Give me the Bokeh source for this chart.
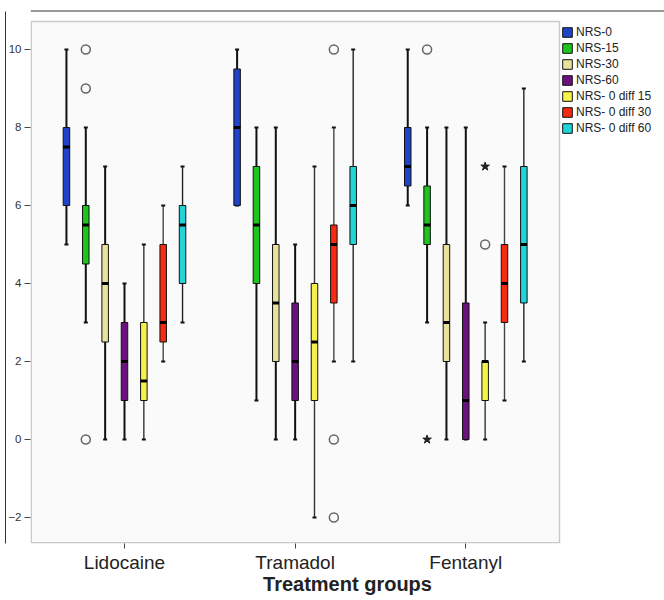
from bokeh.plotting import figure
from bokeh.models import Range1d, FixedTicker, Legend, LegendItem, BoxAnnotation, Span, LinearAxis
from bokeh.embed import file_html
from bokeh.resources import INLINE

groups = ["Lidocaine", "Tramadol", "Fentanyl"]
series = ["NRS-0", "NRS-15", "NRS-30", "NRS-60",
          "NRS- 0 diff 15", "NRS- 0 diff 30", "NRS- 0 diff 60"]
colors = ["#2143c8", "#1ec51e", "#e8e29e", "#6b1280", "#f6f24c", "#f72a12", "#22d4d8"]

# five-number summaries, [series][group] (Lidocaine, Tramadol, Fentanyl)
whisker_low = [[5, 6, 6], [3, 1, 3], [0, 0, 0], [0, 0, 0], [0, -2, 0], [2, 2, 1], [3, 2, 2]]
q1 = [[6, 6, 6.5], [4.5, 4, 5], [2.5, 2, 2], [1, 1, 0], [1, 1, 1], [2.5, 3.5, 3], [4, 5, 3.5]]
median = [[7.5, 8, 7], [5.5, 5.5, 5.5], [4, 3.5, 3], [2, 2, 1], [1.5, 2.5, 2], [3, 5, 4], [5.5, 6, 5]]
q3 = [[8, 9.5, 8], [6, 7, 6.5], [5, 5, 5], [3, 3.5, 3.5], [3, 4, 2], [5, 5.5, 5], [6, 7, 7]]
whisker_high = [[10, 10, 10], [8, 8, 8], [7, 8, 8], [4, 5, 8], [5, 7, 3], [6, 8, 7], [7, 10, 9]]

# outliers (circles) and extremes (stars): group index, series index, value
out_group = [0, 0, 0, 1, 1, 1, 2, 2]
out_series = [1, 1, 1, 5, 5, 5, 1, 4]
out_value = [10, 9, 0, 10, 0, -2, 10, 5]
ext_group = [2, 2]
ext_series = [1, 4]
ext_value = [0, 7]

y_ticks = [-2, 0, 2, 4, 6, 8, 10]

FONT = "Liberation Sans"
GROUP_STEP = 170.65           # px per group
OFFSET = 19.35 / GROUP_STEP   # spacing between series
BOX_W = 6.5 / GROUP_STEP
CAP_W = 4.0 / GROUP_STEP
whisker_widths = [2, 2, 2, 2, 1.4, 1.4, 1.4]
whisker_colors = ["#111111", "#111111", "#111111", "#111111", "#333333", "#444444", "#222222"]

# panel (plot area) extents in data units
X0, X1 = 0.4492, 4.1644
Y0, Y1 = -2.6667, 11.2564
PANEL_RIGHT = 3.5491
PANEL_TOP = 10.718
OUTER_TOP = 10.987

W, H = 664, 600
p = figure(width=W, height=H, output_backend="svg", toolbar_location=None,
           x_range=Range1d(X0, X1), y_range=Range1d(Y0, Y1),
           min_border_left=30, min_border_right=0, min_border_top=0, min_border_bottom=57)
p.background_fill_color = "white"
p.border_fill_color = "white"
p.outline_line_color = None
p.xgrid.visible = False
p.ygrid.visible = False

# plot area panel
p.add_layout(BoxAnnotation(left=X0 + 0.0044, right=PANEL_RIGHT, top=PANEL_TOP, bottom=Y0 + 0.02,
                           fill_color="#fafafa", fill_alpha=1,
                           line_color="#555555", line_width=1.5, level="underlay"))
# outer frame top edge
p.add_layout(Span(location=OUTER_TOP, dimension="width", line_color="#333333", line_width=1))

items = []
for s in range(len(series)):
    xs = [g + 1 + (s - 3) * OFFSET for g in range(len(groups))]
    lw = whisker_widths[s]
    wc = whisker_colors[s]
    p.segment(x0=xs, x1=xs, y0=q3[s], y1=whisker_high[s], line_color=wc, line_width=lw)
    p.segment(x0=xs, x1=xs, y0=whisker_low[s], y1=q1[s], line_color=wc, line_width=lw)
    p.segment(x0=[x - CAP_W / 2 for x in xs], x1=[x + CAP_W / 2 for x in xs],
              y0=whisker_high[s], y1=whisker_high[s], line_color="#111111", line_width=2)
    p.segment(x0=[x - CAP_W / 2 for x in xs], x1=[x + CAP_W / 2 for x in xs],
              y0=whisker_low[s], y1=whisker_low[s], line_color="#111111", line_width=2)
    r = p.quad(left=[x - BOX_W / 2 for x in xs], right=[x + BOX_W / 2 for x in xs],
               bottom=q1[s], top=q3[s], fill_color=colors[s], line_color="#111111", line_width=1)
    items.append(LegendItem(label=series[s], renderers=[r]))
    p.segment(x0=[x - BOX_W / 2 for x in xs], x1=[x + BOX_W / 2 for x in xs],
              y0=median[s], y1=median[s], line_color="black", line_width=3, line_cap="butt")

ox = [out_group[i] + 1 + (out_series[i] - 3) * OFFSET for i in range(len(out_value))]
p.scatter(x=ox, y=out_value, marker="circle", size=9, fill_color=None,
          line_color="#666666", line_width=1.5)
ex = [ext_group[i] + 1 + (ext_series[i] - 3) * OFFSET for i in range(len(ext_value))]
p.scatter(x=ex, y=ext_value, marker="star", size=9, fill_color="#222222",
          line_color="#222222")

p.yaxis.ticker = FixedTicker(ticks=y_ticks)
p.yaxis.minor_tick_line_color = None
p.yaxis.major_tick_in = 0
p.yaxis.major_tick_out = 6
p.yaxis.major_label_standoff = 3
p.yaxis.major_label_text_font = FONT
p.yaxis.major_label_text_font_size = "11.5px"
p.yaxis.major_label_text_color = "#333333"
p.yaxis.axis_line_color = None
p.yaxis.major_tick_line_color = "#444444"

# outer frame left edge (axis line only)
outer = LinearAxis(ticker=FixedTicker(ticks=[]), bounds=(Y0, OUTER_TOP),
                   axis_line_color="#333333", axis_line_width=1,
                   major_tick_line_color=None, minor_tick_line_color=None,
                   major_label_text_alpha=0)
p.add_layout(outer, "left")

p.xaxis.ticker = FixedTicker(ticks=[1, 2, 3])
p.xaxis.major_label_overrides = {i + 1: g for i, g in enumerate(groups)}
p.xaxis.minor_tick_line_color = None
p.xaxis.major_tick_in = 0
p.xaxis.major_tick_out = 5
p.xaxis.major_label_standoff = 3
p.xaxis.major_label_text_font = FONT
p.xaxis.major_label_text_font_size = "19px"
p.xaxis.major_label_text_color = "#222222"
p.xaxis.axis_line_color = None
p.xaxis.major_tick_line_color = "#444444"
p.xaxis.axis_label = "Treatment groups"
p.xaxis.axis_label_text_font = FONT
p.xaxis.axis_label_text_font_size = "20px"
p.xaxis.axis_label_text_font_style = "bold"
p.xaxis.axis_label_text_color = "#222222"
p.xaxis.axis_label_standoff = -3

legend = Legend(items=items, location=(531, 408), orientation="vertical",
                glyph_width=12, glyph_height=12, label_height=12, spacing=2,
                padding=3, margin=0, label_standoff=3,
                label_text_font=FONT, label_text_font_size="12px",
                label_text_color="#222222",
                border_line_color=None, background_fill_alpha=0)
p.add_layout(legend, "center")

open("out.html", "w").write(file_html(p, INLINE))
